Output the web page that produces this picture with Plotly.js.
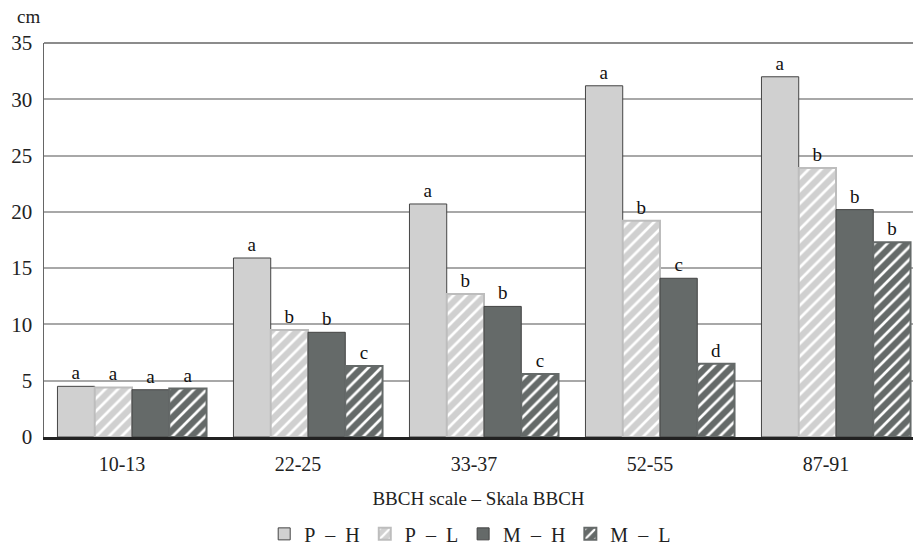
<!DOCTYPE html>
<html><head><meta charset="utf-8">
<script src="https://cdn.plot.ly/plotly-3.0.1.min.js"></script>
<style>html,body{margin:0;padding:0;background:#fff}</style>
</head><body>
<div id="chart" style="width:913px;height:547px"></div>
<script>
const categories = ["10-13", "22-25", "33-37", "52-55", "87-91"];
const seriesNames = ["P\u00a0\u00a0\u2013\u00a0\u00a0H", "P\u00a0\u00a0\u2013\u00a0\u00a0L", "M\u00a0\u00a0\u2013\u00a0\u00a0H", "M\u00a0\u00a0\u2013\u00a0\u00a0L"];
const valuesPH = [4.5, 15.9, 20.7, 31.2, 32.0];
const valuesPL = [4.4, 9.5, 12.7, 19.2, 23.9];
const valuesMH = [4.2, 9.3, 11.6, 14.1, 20.2];
const valuesML = [4.3, 6.3, 5.6, 6.5, 17.3];
const lettersPH = ["a", "a", "a", "a", "a"];
const lettersPL = ["a", "b", "b", "b", "b"];
const lettersMH = ["a", "b", "b", "c", "b"];
const lettersML = ["a", "c", "c", "d", "b"];
const yTitle = "cm";
const xTitle = "BBCH scale \u2013 Skala BBCH";

const light = "#d0d0d0", dark = "#656a69";
function bar(name, y, txt, color, lineColor, lineW, striped) {
  const marker = {color: color, line: {color: lineColor, width: lineW}};
  if (striped) marker.pattern = {shape: "/", bgcolor: color, fgcolor: "#ffffff", size: 9, solidity: 0.3, fillmode: "replace"};
  return {type: "bar", name: name, x: categories, y: y, text: txt,
    textposition: "outside", cliponaxis: false,
    textfont: {family: "Liberation Serif", size: 19, color: "#111"},
    marker: marker, hoverinfo: "skip"};
}
const data = [
  bar(seriesNames[0], valuesPH, lettersPH, light, "#444", 1, false),
  bar(seriesNames[1], valuesPL, lettersPL, light, "#bdbdbd", 2, true),
  bar(seriesNames[2], valuesMH, lettersMH, dark, "#444", 1, false),
  bar(seriesNames[3], valuesML, lettersML, dark, dark, 2, true)
];
const layout = {
  width: 913, height: 547,
  margin: {l: 44, r: 0, t: 43, b: 110},
  paper_bgcolor: "#fff", plot_bgcolor: "#fff",
  font: {family: "Liberation Serif", size: 19, color: "#222"},
  barmode: "group", bargap: 0.153, bargroupgap: 0,
  xaxis: {type: "category", range: [-0.5, 4.4375], showgrid: false,
    showline: true, linecolor: "#222", linewidth: 3, layer: "above traces",
    ticks: "", ticklabelstandoff: 7, ticklabelshift: -10,
    tickfont: {size: 20, color: "#222"},
    title: {text: xTitle, font: {size: 19, color: "#222"}, standoff: 18}},
  yaxis: {range: [0, 35], dtick: 5, tick0: 0, showgrid: true, gridcolor: "#a8a8a8", gridwidth: 2,
    zeroline: false, showline: true, linecolor: "#666", linewidth: 1.5,
    ticks: "", ticklabelstandoff: 6, tickfont: {size: 21, color: "#222"}},
  showlegend: true,
  legend: {orientation: "h", xref: "container", yref: "container", x: 0.515, xanchor: "center",
    y: 0.024, yanchor: "middle",
    font: {size: 20, color: "#222"}, itemwidth: 30, traceorder: "normal"},
  shapes: [{type: "line", xref: "paper", yref: "paper", x0: 0, x1: 1, y0: 1, y1: 1,
    line: {color: "#666", width: 1.5}}],
  annotations: [{text: yTitle, xref: "paper", yref: "paper", x: -0.018, y: 1.035,
    xanchor: "center", yanchor: "bottom", showarrow: false, font: {size: 19, color: "#222"}}]
};
Plotly.newPlot("chart", data, layout, {displayModeBar: false, staticPlot: true});
</script>
</body></html>
